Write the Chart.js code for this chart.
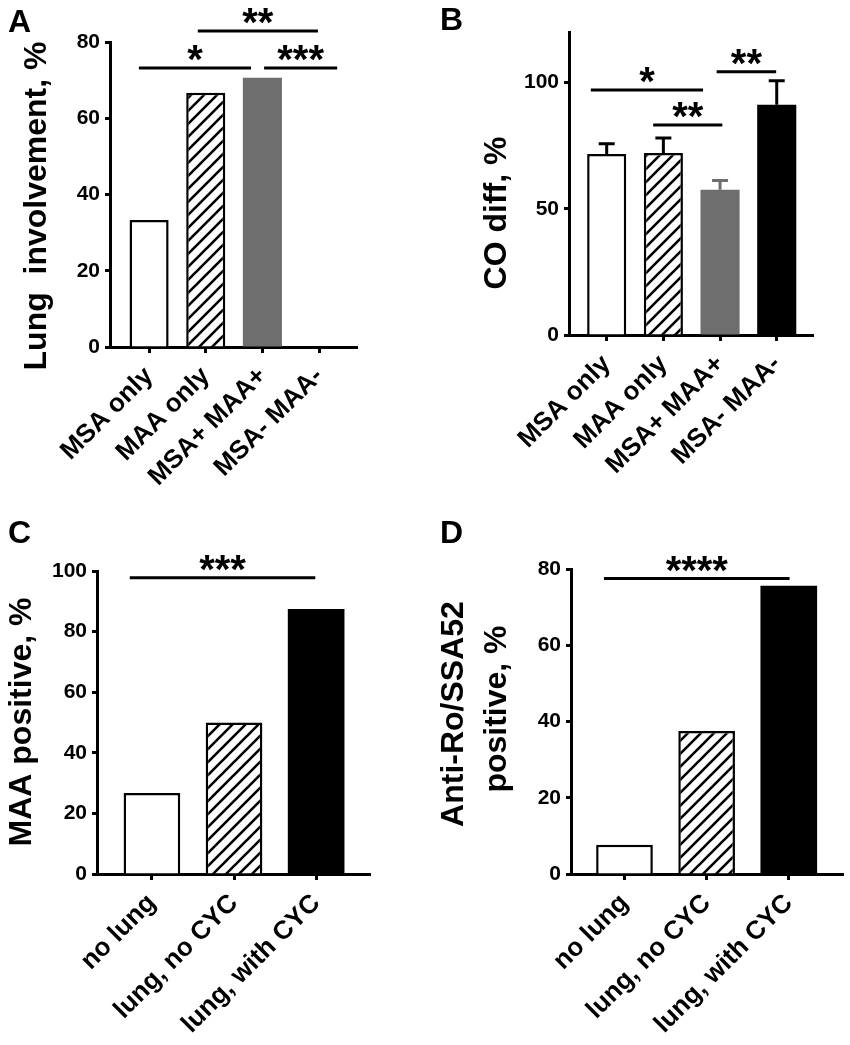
<!DOCTYPE html>
<html><head><meta charset="utf-8">
<script src="https://cdn.jsdelivr.net/npm/chart.js@4"></script>
<style>
html,body{margin:0;padding:0;background:#fff;}
body{width:850px;height:1045px;position:relative;overflow:hidden;}
canvas{position:absolute;}
</style></head>
<body>
<canvas id="cA" width="425" height="515" style="left:0;top:0;width:425px;height:515px"></canvas>
<canvas id="cB" width="425" height="515" style="left:425px;top:0;width:425px;height:515px"></canvas>
<canvas id="cC" width="425" height="530" style="left:0;top:515px;width:425px;height:530px"></canvas>
<canvas id="cD" width="425" height="530" style="left:425px;top:515px;width:425px;height:530px"></canvas>
<script>
// ---------- data ----------
const catsAB = ['MSA only', 'MAA only', 'MSA+ MAA+', 'MSA- MAA-'];
const catsCD = ['no lung', 'lung, no CYC', 'lung, with CYC'];

const lungInvolvement = [33.3, 66.7, 70.6, 0];
const coDiffMean = [71.7, 72.1, 57.5, 91.2];
const coDiffSem = [4.0, 5.9, 3.7, 9.5];
const maaPositive = [26.7, 50.0, 87.5];
const roPositive = [7.7, 37.5, 75.6];

const ticksA = [0, 20, 40, 60, 80];
const ticksB = [0, 50, 100];
const ticksC = [0, 20, 40, 60, 80, 100];
const ticksD = [0, 20, 40, 60, 80];

// significance brackets: [from category, to category, y value, label]
const sigA = [[-0.18, 1.8, 73.2, '*'], [0.86, 2.98, 82.9, '**'], [2.03, 3.32, 73.2, '***']];
const sigB = [[-0.28, 1.7, 97, '*'], [0.82, 2.04, 83.2, '**'], [1.94, 2.99, 104.3, '**']];
const sigC = [[-0.27, 1.99, 97.8, '***']];
const sigD = [[-0.25, 2.01, 77.5, '****']];

// ---------- styles ----------
const FONT = '"Liberation Sans", Arial, Helvetica, sans-serif';
Chart.defaults.font.family = FONT;
Chart.defaults.font.weight = 'bold';
Chart.defaults.color = '#000';

function makeHatch() {
  const s = 13;
  const c = document.createElement('canvas');
  c.width = s; c.height = s;
  const g = c.getContext('2d');
  g.fillStyle = '#fff'; g.fillRect(0, 0, s, s);
  g.strokeStyle = '#000'; g.lineWidth = 2.6; g.lineCap = 'square';
  g.beginPath();
  g.moveTo(-3, s + 3); g.lineTo(s + 3, -3);
  g.moveTo(-3, 3); g.lineTo(3, -3);
  g.moveTo(s - 3, s + 3); g.lineTo(s + 3, s - 3);
  g.stroke();
  return g.createPattern(c, 'repeat');
}
const hatch = makeHatch();
const GRAY = '#6e6e6e';

const decoPlugin = {
  id: 'deco',
  afterDraw(chart, args, o) {
    const ctx = chart.ctx, xs = chart.scales.x, ys = chart.scales.y;
    ctx.save();
    // error bars
    if (o.err) {
      const meta = chart.getDatasetMeta(0);
      meta.data.forEach((el, i) => {
        const yTop = ys.getPixelForValue(o.mean[i] + o.err[i]);
        ctx.strokeStyle = o.errColors[i];
        ctx.lineWidth = 3;
        ctx.beginPath();
        ctx.moveTo(el.x, el.y);
        ctx.lineTo(el.x, yTop);
        ctx.moveTo(el.x - 8, yTop);
        ctx.lineTo(el.x + 8, yTop);
        ctx.stroke();
      });
    }
    // significance
    (o.sig || []).forEach(s => {
      const x1 = xs.getPixelForValue(s[0]), x2 = xs.getPixelForValue(s[1]);
      const y = ys.getPixelForValue(s[2]);
      ctx.strokeStyle = '#000'; ctx.lineWidth = 3;
      ctx.beginPath(); ctx.moveTo(x1, y); ctx.lineTo(x2, y); ctx.stroke();
      ctx.fillStyle = '#000';
      ctx.font = 'bold 40px ' + FONT;
      ctx.textAlign = 'center'; ctx.textBaseline = 'alphabetic';
      ctx.fillText(s[3], (x1 + x2) / 2, y + 5);
    });
    // panel letter
    ctx.fillStyle = '#000';
    ctx.font = 'bold 32px ' + FONT;
    ctx.textAlign = 'left'; ctx.textBaseline = 'alphabetic';
    ctx.fillText(o.letter, o.letterPos[0], o.letterPos[1]);
    // y title
    ctx.font = 'bold 32px ' + FONT;
    ctx.textAlign = 'center'; ctx.textBaseline = 'middle';
    o.title.forEach((t, i) => {
      ctx.save();
      ctx.translate(o.titlePos[i][0], o.titlePos[i][1]);
      ctx.rotate(-Math.PI / 2);
      ctx.fillText(t, 0, 0);
      ctx.restore();
    });
    ctx.restore();
  }
};

function makeChart(id, cfg) {
  const data = cfg.values.map((v, i) => ({ x: i, y: v }));
  return new Chart(document.getElementById(id), {
    type: 'bar',
    data: {
      datasets: [{
        data: data,
        backgroundColor: cfg.colors,
        borderColor: '#000',
        borderWidth: cfg.borders,
        borderSkipped: 'start',
        barPercentage: 0.69,
        categoryPercentage: 1.0
      }]
    },
    plugins: [decoPlugin],
    options: {
      responsive: false,
      animation: false,
      events: [],
      layout: { padding: { left: 0, right: cfg.padRight, top: cfg.padTop, bottom: 0 } },
      plugins: {
        legend: { display: false },
        tooltip: { enabled: false },
        deco: cfg.deco
      },
      scales: {
        x: {
          type: 'linear',
          offset: false,
          min: cfg.xMin, max: cfg.xMax,
          afterBuildTicks: (ax) => { ax.ticks = cfg.cats.map((c, i) => ({ value: i })); },
          afterFit: (ax) => { ax.height = cfg.xHeight; },
          border: { display: true, color: '#000', width: 3 },
          grid: { display: true, offset: false, drawOnChartArea: false, drawTicks: true, tickLength: 6, tickWidth: 3, tickColor: '#000' },
          ticks: {
            autoSkip: false, minRotation: 45, maxRotation: 45, padding: 8,
            color: '#000', font: { size: 26, weight: 'bold' },
            callback: (v) => cfg.cats[Math.round(v)]
          }
        },
        y: {
          type: 'linear',
          min: 0, max: cfg.yMax,
          afterBuildTicks: (ax) => { ax.ticks = cfg.yTicks.map(v => ({ value: v })); },
          afterFit: (ax) => { ax.width = cfg.yWidth; },
          border: { display: true, color: '#000', width: 3 },
          grid: { display: true, drawOnChartArea: false, drawTicks: true, tickLength: 5, tickWidth: 3, tickColor: '#000' },
          ticks: { padding: 5, color: '#000', font: { size: 21, weight: 'bold' } }
        }
      }
    }
  });
}

makeChart('cA', {
  cats: catsAB, values: lungInvolvement,
  colors: ['#fff', hatch, GRAY, '#000'], borders: [2.5, 2.5, 0, 0],
  xMin: -0.69, xMax: 3.67, yMax: 80, yTicks: ticksA,
  yWidth: 110, padRight: 68, padTop: 42, xHeight: 168,
  deco: { sig: sigA, letter: 'A', letterPos: [8, 32],
          title: ['Lung  involvement, %'], titlePos: [[37, 206]] }
});
makeChart('cB', {
  cats: catsAB, values: coDiffMean,
  colors: ['#fff', hatch, GRAY, '#000'], borders: [2.5, 2.5, 0, 0],
  xMin: -0.665, xMax: 3.64, yMax: 120, yTicks: ticksB,
  yWidth: 144, padRight: 37, padTop: 32, xHeight: 180,
  deco: { sig: sigB, letter: 'B', letterPos: [15, 30],
          err: coDiffSem, mean: coDiffMean, errColors: ['#000', '#000', GRAY, '#000'],
          title: ['CO diff, %'], titlePos: [[72, 213]] }
});
makeChart('cC', {
  cats: catsCD, values: maaPositive,
  colors: ['#fff', hatch, '#000'], borders: [2.5, 2.5, 0],
  xMin: -0.669, xMax: 2.656, yMax: 100, yTicks: ticksC,
  yWidth: 97, padRight: 55, padTop: 56, xHeight: 171,
  deco: { sig: sigC, letter: 'C', letterPos: [8, 28],
          title: ['MAA positive, %'], titlePos: [[22, 207]] }
});
makeChart('cD', {
  cats: catsCD, values: roPositive,
  colors: ['#fff', hatch, '#000'], borders: [2.5, 2.5, 0],
  xMin: -0.651, xMax: 2.66, yMax: 80, yTicks: ticksD,
  yWidth: 146, padRight: 7, padTop: 54, xHeight: 171,
  deco: { sig: sigD, letter: 'D', letterPos: [15, 28],
          title: ['Anti-Ro/SSA52', 'positive, %'], titlePos: [[29, 199], [72, 194]] }
});
</script>
</body></html>
